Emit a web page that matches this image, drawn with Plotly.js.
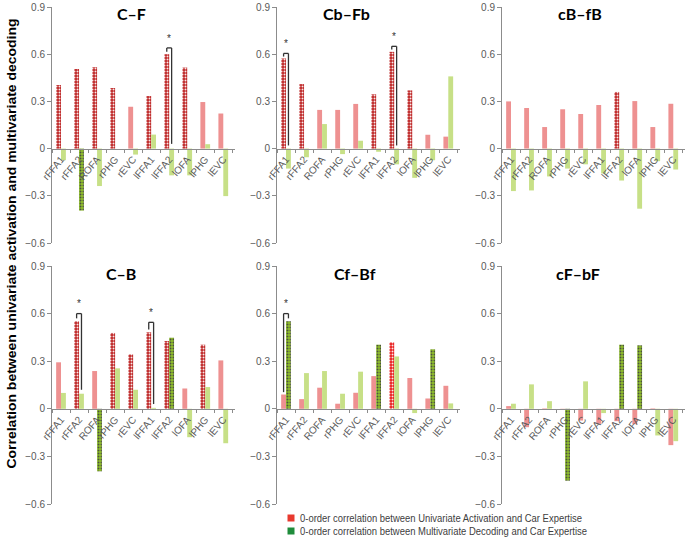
<!DOCTYPE html>
<html>
<head>
<meta charset="utf-8">
<script src="https://cdn.plot.ly/plotly-3.0.1.min.js"></script>
<style>
  html, body { margin: 0; padding: 0; background: #fff; }
  #chart { width: 685px; height: 537px; }
</style>
</head>
<body>
<div id="chart"></div>
<script>
// ---------------- DATA ----------------
const categories = ['rFFA1', 'rFFA2', 'ROFA', 'rPHG', 'rEVC', 'lFFA1', 'lFFA2', 'lOFA', 'lPHG', 'lEVC'];
const panelTitles = ['C\u2013F', 'Cb\u2013Fb', 'cB\u2013fB', 'C\u2013B', 'Cf\u2013Bf', 'cF\u2013bF'];

// 0-order correlation between Univariate Activation and Car Expertise
const uniCF   = [0.404, 0.506, 0.517, 0.385, 0.266, 0.334, 0.600, 0.515, 0.296, 0.223];
const uniCbFb = [0.573, 0.410, 0.246, 0.246, 0.284, 0.345, 0.615, 0.370, 0.088, 0.076];
const unicBfB = [0.300, 0.258, 0.137, 0.250, 0.220, 0.277, 0.360, 0.302, 0.137, 0.285];
const uniCB   = [0.293, 0.552, 0.238, 0.478, 0.343, 0.482, 0.427, 0.128, 0.404, 0.305];
const uniCfBf = [0.090, 0.061, 0.133, 0.032, 0.101, 0.206, 0.419, 0.194, 0.065, 0.145];
const unicFbF = [0.017, -0.116, 0.003, -0.003, -0.074, -0.095, -0.078, -0.097, 0.003, -0.229];

// 0-order correlation between Multivariate Decoding and Car Expertise
const mvCF   = [-0.074, -0.394, -0.238, 0.000, -0.038, 0.089, -0.170, -0.170, 0.028, -0.302];
const mvCbFb = [-0.127, -0.055, 0.156, -0.035, 0.050, -0.020, -0.100, -0.186, -0.074, 0.459];
const mvcBfB = [-0.270, -0.266, -0.177, -0.127, -0.100, -0.158, -0.203, -0.382, -0.080, -0.133];
const mvCB   = [0.100, 0.095, -0.394, 0.255, 0.120, 0.006, 0.448, -0.179, 0.137, -0.217];
const mvCfBf = [0.552, 0.225, 0.238, 0.095, 0.234, 0.404, 0.330, -0.027, 0.375, 0.034];
const mvcFbF = [0.032, 0.154, 0.048, -0.453, 0.173, -0.027, 0.404, 0.400, -0.168, -0.204];

// significance flags (0 = n.s., 1 = significant, 2 = significant, bright)
const sigUniCF   = [1, 1, 1, 1, 0, 1, 1, 1, 0, 0];
const sigUniCbFb = [1, 1, 0, 0, 0, 1, 1, 1, 0, 0];
const sigUnicBfB = [0, 0, 0, 0, 0, 0, 1, 0, 0, 0];
const sigUniCB   = [0, 1, 0, 1, 1, 1, 1, 0, 1, 0];
const sigUniCfBf = [0, 0, 0, 0, 0, 0, 2, 0, 0, 0];
const sigUnicFbF = [0, 0, 0, 0, 0, 0, 0, 0, 0, 0];

const sigMvCF   = [0, 1, 0, 0, 0, 0, 0, 0, 0, 0];
const sigMvCbFb = [0, 0, 0, 0, 0, 0, 0, 0, 0, 0];
const sigMvcBfB = [0, 0, 0, 0, 0, 0, 0, 0, 0, 0];
const sigMvCB   = [0, 0, 1, 0, 0, 0, 1, 0, 0, 0];
const sigMvCfBf = [1, 0, 0, 0, 0, 1, 0, 0, 1, 0];
const sigMvcFbF = [0, 0, 0, 1, 0, 0, 1, 1, 0, 0];

// difference brackets: panel index, category, bracket top, left-leg end, right-leg end
const bracketPanel = [0, 1, 1, 3, 3, 4];
const bracketCat   = ['lFFA2', 'rFFA1', 'lFFA2', 'rFFA2', 'lFFA1', 'rFFA1'];
const bracketTop   = [0.640, 0.605, 0.650, 0.600, 0.545, 0.600];
const bracketLeft  = [0.615, 0.585, 0.630, 0.570, 0.500, 0.105];
const bracketRight = [0.030, 0.020, 0.020, 0.120, 0.030, 0.570];

const legendLabels = [
  '0-order correlation between Univariate Activation and Car Expertise',
  '0-order correlation between Multivariate Decoding and Car Expertise'
];
const yTitle = 'Correlation between univariate activation and multivariate decoding';

// ---------------- LAYOUT HELPERS ----------------
const uniSeries = [uniCF, uniCbFb, unicBfB, uniCB, uniCfBf, unicFbF];
const mvSeries  = [mvCF, mvCbFb, mvcBfB, mvCB, mvCfBf, mvcFbF];
const uniSig = [sigUniCF, sigUniCbFb, sigUnicBfB, sigUniCB, sigUniCfBf, sigUnicFbF];
const mvSig  = [sigMvCF, sigMvCbFb, sigMvcBfB, sigMvCB, sigMvCfBf, sigMvcFbF];

const W = 685, H = 537;
const px = v => v / W;
const py = v => 1 - v / H;
const xDomains = [[52, 235], [277, 460], [502, 685]];
const yDomains = [[243, 7], [504, 266]];   // pixel y of -0.6 and 0.9
const titlePos = [[131, 14], [346, 14], [580, 14], [121, 273], [355, 273], [578, 273]];

const sans = 'Liberation Sans, Arial, sans-serif';
const redCols = ['#ee9191', '#bd2323', '#e81c1c'];
const greenCols = ['#c7e087', '#90c02c', '#90c02c'];
const gap = 0.46;
const off = (1 - gap) / 4;

const data = [];
const layout = {
  width: W, height: H,
  margin: {l: 0, r: 0, t: 0, b: 0},
  paper_bgcolor: '#ffffff', plot_bgcolor: 'rgba(0,0,0,0)',
  showlegend: false,
  barmode: 'group', bargap: gap, bargroupgap: 0,
  annotations: [], shapes: []
};

function patternFor(sig, dotColor) {
  return {
    fillmode: 'overlay',
    shape: sig.map(s => s ? '.' : ''),
    fgcolor: sig.map(() => dotColor),
    fgopacity: 0.9,
    size: 3, solidity: 0.35
  };
}

for (let i = 0; i < 6; i++) {
  const n = i + 1;
  const xs = n === 1 ? '' : String(n);
  const col = i % 3, row = Math.floor(i / 3);
  const xd = xDomains[col], yd = yDomains[row];
  const yDom = [py(yd[0]), py(yd[1])];
  const zeroPos = yDom[0] + (0.6 / 1.5) * (yDom[1] - yDom[0]);

  data.push({
    type: 'bar', x: categories, y: uniSeries[i], xaxis: 'x' + xs, yaxis: 'y' + xs,
    marker: {
      color: uniSig[i].map(s => redCols[s]),
      line: {width: 0},
      pattern: patternFor(uniSig[i], '#2a0404')
    },
    hoverinfo: 'x+y'
  });
  data.push({
    type: 'bar', x: categories, y: mvSeries[i], xaxis: 'x' + xs, yaxis: 'y' + xs,
    marker: {
      color: mvSig[i].map(s => greenCols[s]),
      line: {width: 0},
      pattern: patternFor(mvSig[i], '#142000')
    },
    hoverinfo: 'x+y'
  });

  layout['xaxis' + xs] = {
    domain: [px(xd[0]), px(xd[1])],
    anchor: 'free', position: zeroPos,
    type: 'category', range: [-0.5, 9.65],
    showline: true, linecolor: '#8c8c8c', linewidth: 1,
    ticks: 'outside', tickson: 'boundaries', ticklen: 3, tickcolor: '#8c8c8c',
    tickangle: -50, tickfont: {family: sans, size: 10, color: '#595959'},
    showgrid: false, zeroline: false, fixedrange: true
  };
  layout['yaxis' + xs] = {
    domain: yDom, anchor: 'x' + xs,
    range: [-0.6, 0.9], tickvals: [-0.6, -0.3, 0, 0.3, 0.6, 0.9],
    showline: true, linecolor: '#8c8c8c', linewidth: 1,
    ticks: 'outside', ticklen: 4, tickcolor: '#8c8c8c',
    tickfont: {family: sans, size: 10, color: '#595959'},
    showgrid: false, zeroline: false, fixedrange: true
  };

  layout.annotations.push({
    xref: 'paper', yref: 'paper', x: px(titlePos[i][0]), y: py(titlePos[i][1]),
    xanchor: 'center', yanchor: 'middle', showarrow: false,
    text: panelTitles[i],
    font: {family: 'Lato, Liberation Sans, sans-serif', size: 16, color: '#000', weight: 'bold'}
  });
}

// brackets with stars
for (let k = 0; k < bracketPanel.length; k++) {
  const n = bracketPanel[k] + 1;
  const xs = n === 1 ? '' : String(n);
  const c = categories.indexOf(bracketCat[k]);
  const L = c - off, R = c + off;
  const ln = {color: '#333333', width: 1.3};
  const base = {type: 'line', xref: 'x' + xs, yref: 'y' + xs, line: ln};
  layout.shapes.push(Object.assign({}, base, {x0: L, x1: L, y0: bracketLeft[k], y1: bracketTop[k]}));
  layout.shapes.push(Object.assign({}, base, {x0: L, x1: R, y0: bracketTop[k], y1: bracketTop[k]}));
  layout.shapes.push(Object.assign({}, base, {x0: R, x1: R, y0: bracketTop[k], y1: bracketRight[k]}));
  layout.annotations.push({
    xref: 'x' + xs, yref: 'y' + xs, x: c, y: bracketTop[k] + 0.015,
    xanchor: 'center', yanchor: 'bottom', showarrow: false, text: '*',
    font: {family: sans, size: 10, color: '#333333'}
  });
}

// y-axis title
layout.annotations.push({
  xref: 'paper', yref: 'paper', x: px(12), y: py(244),
  xanchor: 'center', yanchor: 'middle', showarrow: false, textangle: -90,
  text: yTitle,
  font: {family: sans, size: 13, color: '#000', weight: 'bold'}
});

// legend
const legCols = ['#e8392e', '#1f8c3b'];
const legY = [518, 531];
for (let k = 0; k < 2; k++) {
  layout.shapes.push({
    type: 'rect', xref: 'paper', yref: 'paper',
    x0: px(287.5), x1: px(294.5), y0: py(legY[k] + 3.5), y1: py(legY[k] - 3.5),
    fillcolor: legCols[k], line: {width: 0}
  });
  layout.annotations.push({
    xref: 'paper', yref: 'paper', x: px(298), y: py(legY[k]),
    xanchor: 'left', yanchor: 'middle', align: 'left', showarrow: false,
    text: legendLabels[k],
    font: {family: sans, size: 11, color: '#404040'}
  });
}

Plotly.newPlot('chart', data, layout, {staticPlot: true, displayModeBar: false}).then(() => {
  // the reference text is horizontally condensed: fit the long texts to their measured lengths
  document.querySelectorAll('.annotation-text').forEach(t => {
    const s = t.textContent;
    let len = null;
    if (s === yTitle) len = 450;
    else if (legendLabels.indexOf(s) >= 0) len = legendLabels.indexOf(s) === 0 ? 282 : 287;
    if (len) {
      t.setAttribute('textLength', len);
      t.setAttribute('lengthAdjust', 'spacingAndGlyphs');
    }
  });
});
</script>
</body>
</html>
